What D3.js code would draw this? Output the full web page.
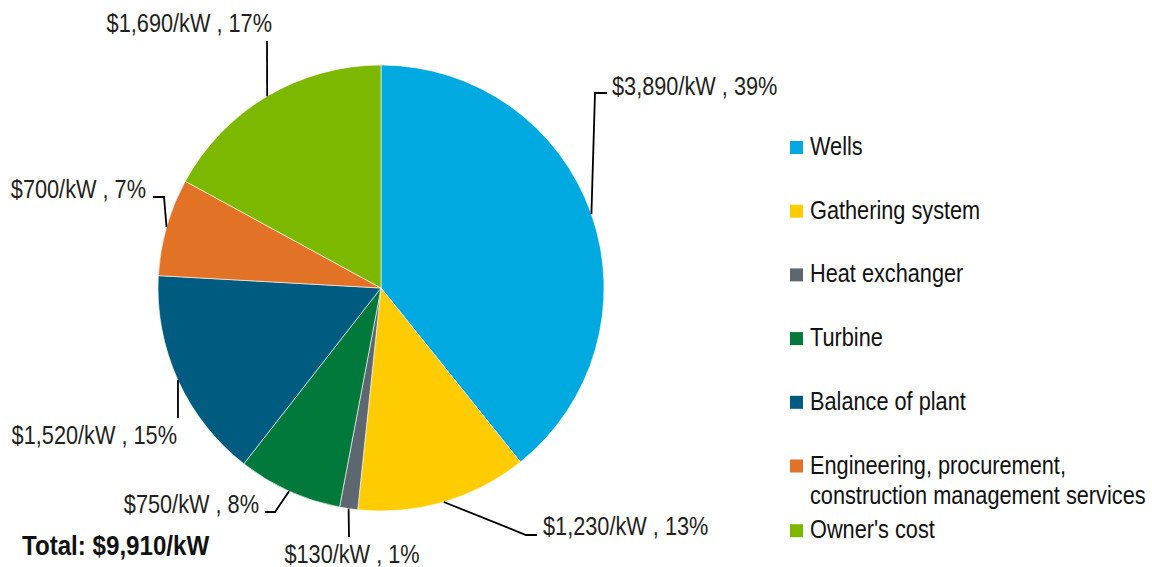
<!DOCTYPE html>
<html>
<head>
<meta charset="utf-8">
<script src="https://cdn.jsdelivr.net/npm/d3@7"></script>
<style>
  html, body { margin: 0; padding: 0; background: #fff; }
  svg { display: block; }
</style>
</head>
<body>
<svg id="chart" width="1152" height="567"></svg>
<script>
// ---- data ----
const categories = ["Wells", "Gathering system", "Heat exchanger", "Turbine", "Balance of plant", "Engineering, procurement, construction management services", "Owner's cost"];
const legendLines = [["Wells"], ["Gathering system"], ["Heat exchanger"], ["Turbine"], ["Balance of plant"], ["Engineering, procurement,", "construction management services"], ["Owner's cost"]];
const values = [3890, 1230, 130, 750, 1520, 700, 1690];
const percents = [39, 13, 1, 8, 15, 7, 17];
const colors = ["#00A9DF", "#FECC00", "#5D6770", "#00793A", "#005B81", "#E27326", "#7DB800"];
const totalLabel = "Total: $9,910/kW";

// ---- font detection ----
function fontAvailable(name) {
  const c = document.createElement("canvas").getContext("2d");
  const s = "abcdefghijklmnopWM0123456789";
  c.font = "40px monospace"; const w1 = c.measureText(s).width;
  c.font = `40px "${name}", monospace`; const w2 = c.measureText(s).width;
  return w1 !== w2;
}
const hasNarrow = fontAvailable("Liberation Sans Narrow");
const FONT = hasNarrow ? '"Liberation Sans Narrow", "Arial Narrow", sans-serif' : '"Liberation Sans", Arial, sans-serif';
const SX = hasNarrow ? 1 : 0.82;

const svg = d3.select("#chart");
function addText(x, y, str, opts = {}) {
  const sx = SX * (opts.sx || 1);
  const g = svg.append("g").attr("transform", `translate(${x},${y}) scale(${sx},1)`);
  return g.append("text")
    .attr("x", 0).attr("y", 0)
    .attr("font-family", FONT)
    .attr("font-size", opts.size || 26.5)
    .attr("font-weight", opts.weight || "normal")
    .attr("fill", opts.fill || "#231F20")
    .attr("text-anchor", opts.anchor || "start")
    .text(str);
}

// ---- pie ----
const cx = 381, cy = 288, R = 223;
const pie = d3.pie().sort(null).value(d => d)(values);
const arc = d3.arc().innerRadius(0).outerRadius(R);
const edgeArc = d3.arc().innerRadius(R).outerRadius(R);

const gPie = svg.append("g").attr("transform", `translate(${cx},${cy})`);
gPie.selectAll("path").data(pie).join("path")
  .attr("d", arc)
  .attr("fill", (d, i) => colors[i])
  .attr("stroke", "#fff")
  .attr("stroke-width", 0.6);

// ---- labels with leader lines (layout: elbow, end, text position/anchor) ----
const fmt = d3.format(",");
const labelLayout = [
  { pts: [[595, 93], [607, 93]], tx: 612, ty: 95, anchor: "start" },      // Wells
  { pts: [[526, 535], [537, 535]], tx: 543, ty: 535, anchor: "start" },   // Gathering
  { pts: [[349, 537]], tx: 352, ty: 563, anchor: "middle" },             // Heat exchanger
  { pts: [[275, 512], [265, 512]], tx: 259, ty: 513, anchor: "end" },     // Turbine
  { pts: [[178, 418]], tx: 177, ty: 444, anchor: "end" },                // Balance of plant
  { pts: [[164, 197], [153, 197]], tx: 146, ty: 198, anchor: "end" },     // EPC
  { pts: [[267, 41]], tx: 272, ty: 32, anchor: "end" }                   // Owner's cost
];

pie.forEach((d, i) => {
  const [ax, ay] = edgeArc.centroid(d);
  const L = labelLayout[i];
  const pts = [[cx + ax, cy + ay]].concat(L.pts);
  svg.append("path")
    .attr("d", d3.line()(pts))
    .attr("fill", "none")
    .attr("stroke", "#000")
    .attr("stroke-width", 1.8);
  addText(L.tx, L.ty, `$${fmt(values[i])}/kW , ${percents[i]}%`, { anchor: L.anchor });
});

// ---- legend ----
const legendX = 790, legendY0 = 155, legendStep = 63.7, lineH = 30;
legendLines.forEach((lines, i) => {
  const by = legendY0 + i * legendStep + (i === 6 ? 1 : 0);
  svg.append("rect")
    .attr("x", legendX).attr("y", by - 14)
    .attr("width", 13).attr("height", 13)
    .attr("fill", colors[i]);
  lines.forEach((t, j) => addText(legendX + 20, by + j * lineH, t, { size: 26.5, fill: "#111" }));
});

// ---- total ----
addText(22, 555, totalLabel, { size: 27, weight: "bold", fill: "#111", sx: 1.09 });
</script>
</body>
</html>
